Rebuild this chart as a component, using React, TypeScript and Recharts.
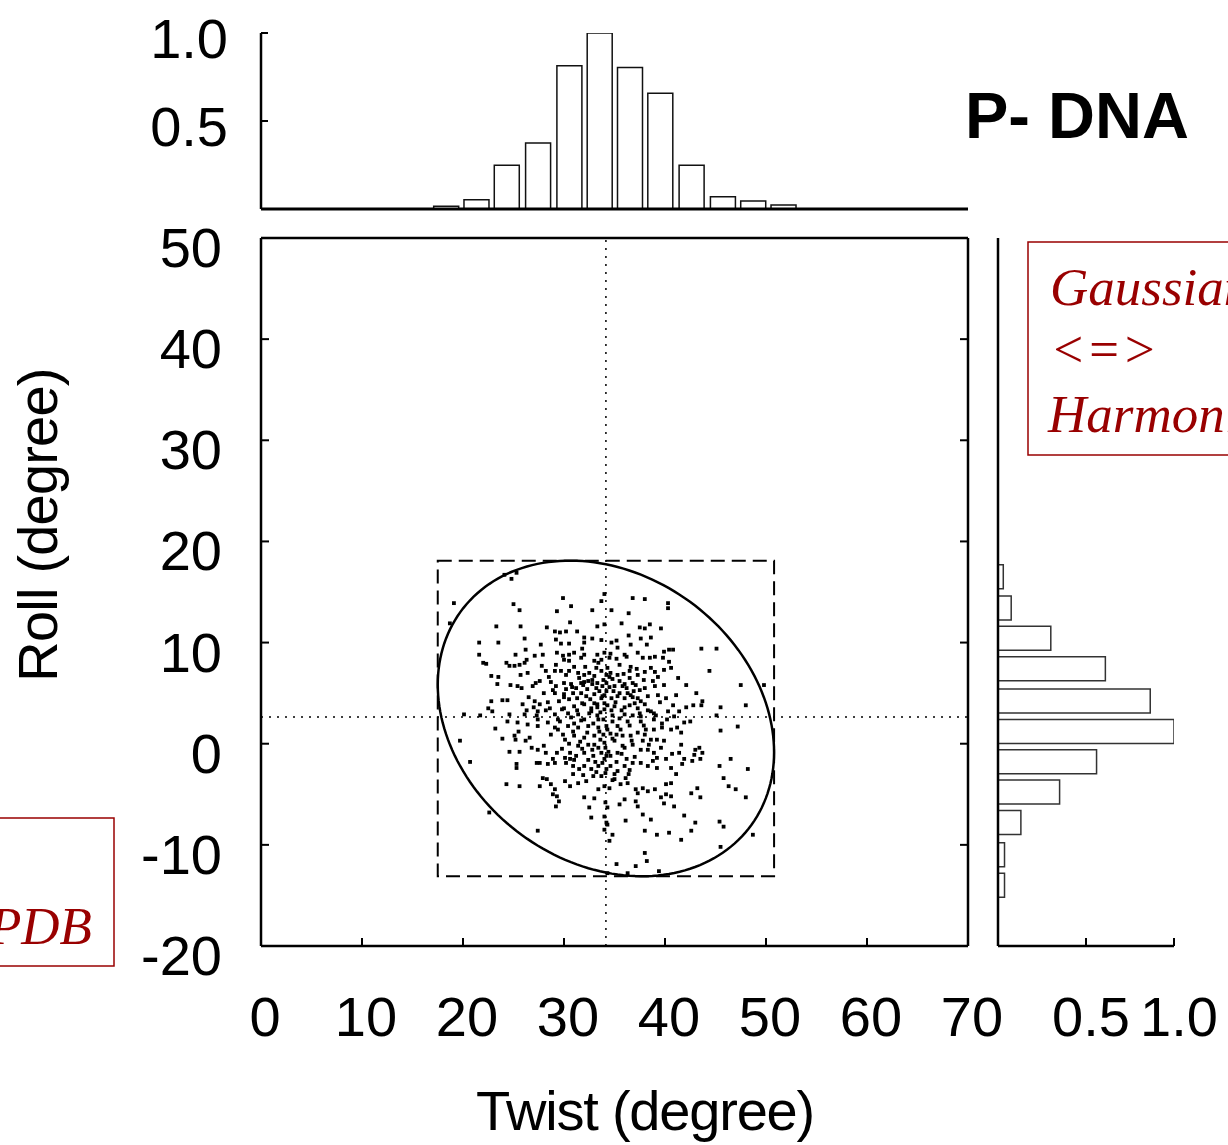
import React from "react"
import {
    ScatterChart,
    Scatter,
    BarChart,
    Bar,
    XAxis,
    YAxis,
    ReferenceLine,
    ReferenceArea,
    Label,
} from "recharts"

if (typeof document !== "undefined") document.body.style.margin = "0"

const SANS = "'Liberation Sans', Arial, Helvetica, sans-serif"
const SERIF = "'Liberation Serif', 'Times New Roman', serif"
const RED = "#990000"

// top panel: twist histogram (bin centre, normalised count)
const twistBins = [18.3, 21.3, 24.3, 27.4, 30.5, 33.5, 36.5, 39.5, 42.6, 45.7, 48.7, 51.7]
const twistFreq = [0.015, 0.053, 0.249, 0.375, 0.814, 1.0, 0.804, 0.657, 0.249, 0.07, 0.045, 0.023]

// right panel: roll histogram
const rollBins = [16.5, 13.4, 10.4, 7.4, 4.2, 1.2, -1.8, -4.8, -7.8, -11.0, -14.0]
const rollFreq = [0.03, 0.075, 0.3, 0.61, 0.865, 1.0, 0.56, 0.35, 0.13, 0.037, 0.037]

const twistTicks = [0, 10, 20, 30, 40, 50, 60, 70]
const rollTicks = [-20, -10, 0, 10, 20, 30, 40, 50]
const histTicks = [0.5, 1.0]

// means (dotted cross) and the dashed box the ellipse sits in
const meanTwist = 34.15
const meanRoll = 2.65
const boxTwist = [17.5, 50.8]
const boxRoll = [-13.1, 18.1]
const ellipseTilt = -0.214 // top tangent offset / half width

// scatter
const dotsUpperLeft: [number, number][] = [
    [24.1, 16.7], [24.8, 16.3], [25.3, 16.9], [19.1, 13.9], [25.0, 13.8], [25.6, 13.2], [29.9, 14.4],
    [30.7, 13.6], [29.3, 13.1], [32.8, 13.2], [33.7, 14.1], [34.0, 14.8], [18.7, 11.9], [23.3, 11.6],
    [25.7, 11.6], [28.3, 11.5], [30.6, 12.0], [29.1, 11.1], [29.6, 11.0], [30.2, 11.1], [31.3, 11.1],
    [33.3, 11.6], [34.0, 11.8], [21.6, 10.0], [23.5, 10.0], [26.1, 10.4], [27.7, 9.8], [29.2, 10.3],
    [29.7, 9.9], [30.5, 9.9], [32.0, 10.5], [32.8, 10.4], [33.7, 10.25], [32.0, 10.0], [21.6, 8.8],
    [25.2, 8.8], [26.2, 9.3], [27.1, 8.7], [27.9, 8.8], [29.3, 9.0], [29.9, 8.7], [30.5, 8.8],
    [31.0, 9.0], [32.0, 8.8], [33.3, 8.8], [34.0, 9.0], [22.0, 8.0], [22.3, 7.9], [24.3, 8.0],
    [24.6, 7.7], [25.1, 7.7], [25.6, 7.8], [26.1, 8.0], [26.3, 8.3], [27.8, 7.7], [30.0, 8.3],
    [30.5, 8.2], [31.7, 8.5], [33.0, 8.2], [33.7, 8.3], [22.8, 6.7], [23.5, 6.6], [25.7, 6.8],
    [26.4, 7.0], [28.2, 7.2], [29.1, 7.2], [29.7, 7.2], [30.5, 7.2], [31.4, 7.0], [32.0, 6.8],
    [32.5, 7.0], [33.0, 6.7], [33.7, 7.2], [34.2, 6.8], [23.4, 5.9], [24.7, 5.8], [25.4, 5.7],
    [25.8, 5.5], [26.9, 5.7], [27.6, 6.2], [28.7, 6.1], [29.2, 5.7], [30.0, 6.0], [30.7, 5.9],
    [31.2, 5.5], [31.7, 6.0], [32.4, 6.2], [32.8, 5.9], [33.3, 6.0], [33.8, 5.7], [22.8, 4.2],
    [23.9, 4.3], [24.4, 4.3], [25.9, 3.9], [27.1, 4.2], [27.6, 3.9], [28.4, 4.1], [29.1, 5.0],
    [30.0, 4.9], [30.9, 5.0], [31.7, 5.0], [32.2, 4.7], [33.0, 4.9], [33.7, 4.5], [34.2, 5.2],
    [22.5, 3.5], [22.9, 3.2], [26.3, 3.3], [27.4, 3.2], [28.2, 3.3], [30.0, 3.5], [31.0, 3.7],
    [32.0, 3.9], [32.7, 3.5], [33.3, 3.9], [34.0, 3.4], [20.1, 2.9], [21.7, 2.8], [24.6, 2.9],
    [26.1, 2.9], [27.3, 2.8], [29.1, 2.9], [31.4, 2.9], [32.5, 3.0], [33.3, 2.8],
    [31.5, 6.5], [32.8, 6.3], [33.5, 5.2], [31.8, 4.0], [33.0, 4.0], [32.3, 5.4], [33.9, 6.3],
    [30.5, 4.4], [29.8, 3.4], [31.3, 3.3], [33.6, 3.1], [32.1, 7.6], [33.2, 7.5], [31.0, 7.6],
    [30.2, 6.8], [28.9, 5.3], [29.5, 4.2], [28.5, 6.6], [27.2, 6.0], [26.5, 4.6], [28.0, 5.0],
    [27.0, 3.6], [34.0, 4.0],
]

const dotsUpperRight: [number, number][] = [
    [36.8, 14.4], [38.0, 14.3], [40.3, 13.9], [40.3, 13.4], [34.7, 13.2], [36.4, 12.9], [35.7, 11.9],
    [37.5, 11.5], [38.0, 11.4], [38.5, 11.8], [39.6, 11.4], [36.4, 10.7], [37.6, 10.4], [38.6, 10.5],
    [38.2, 9.8], [35.2, 10.2], [34.7, 10.0], [35.3, 9.5], [43.6, 9.4], [45.1, 9.4], [44.4, 7.2],
    [47.5, 5.8], [49.8, 5.8], [48.0, 3.8], [45.5, 3.6], [45.1, 2.8], [36.0, 8.8], [36.2, 8.6],
    [35.2, 8.4], [34.5, 8.5], [37.3, 9.0], [37.8, 8.5], [38.5, 8.5], [39.0, 8.6], [39.9, 9.1],
    [40.4, 9.3], [40.8, 9.3], [39.8, 8.5], [40.4, 8.1], [40.6, 7.5], [39.9, 7.3], [41.3, 6.5],
    [42.1, 5.8], [43.1, 5.0], [43.7, 4.2], [43.6, 3.8], [42.8, 3.8], [42.1, 3.6], [34.3, 7.5],
    [35.5, 7.8], [36.6, 7.6], [38.0, 7.1], [38.6, 7.5], [39.0, 7.1], [39.3, 6.6], [37.3, 6.8],
    [36.5, 6.5], [35.3, 6.8], [34.5, 6.6], [34.2, 6.0], [35.0, 5.7], [35.8, 5.7], [36.2, 5.5],
    [37.1, 5.8], [37.5, 5.3], [38.0, 5.5], [39.0, 5.7], [39.9, 5.8], [41.1, 4.8], [34.0, 4.8],
    [34.7, 4.5], [35.5, 5.0], [36.0, 4.5], [36.6, 4.8], [37.3, 4.5], [38.3, 4.7], [39.3, 4.8],
    [40.1, 4.5], [40.8, 3.8], [34.3, 3.8], [35.0, 3.7], [35.7, 3.3], [36.5, 3.8], [37.3, 3.5],
    [38.3, 3.3], [39.1, 2.8], [40.3, 3.2], [40.9, 2.7], [34.8, 2.8], [36.0, 2.9], [36.8, 2.8],
    [37.6, 2.7], [38.6, 3.2], [41.4, 3.2],
    [35.5, 6.2], [36.8, 6.0], [37.9, 6.3], [34.9, 5.2], [36.3, 5.0], [35.1, 4.1], [37.0, 4.0],
    [38.0, 3.9], [39.5, 4.1], [36.5, 7.2], [34.6, 7.0], [38.8, 6.2],
]

const dotsLowerLeft: [number, number][] = [
    [23.2, 1.5], [23.9, 0.5], [25.1, 0.8], [25.5, 1.2], [25.2, 0.4], [26.2, 0.3], [26.6, 0.6],
    [26.8, -0.4], [27.4, -0.6], [28.0, -0.2], [28.2, -0.9], [24.6, -0.8], [25.6, -0.8], [19.7, 0.3],
    [20.7, -1.8], [25.3, -2.0], [25.3, -2.4], [24.3, -4.0], [25.6, -4.2], [27.6, -4.2], [27.9, -3.4],
    [28.3, -3.5], [28.7, -4.0], [29.1, -4.5], [28.9, -5.0], [29.3, -5.2], [29.5, -5.7], [29.2, -6.2],
    [22.6, -6.8], [27.4, -8.6], [27.3, -1.9], [27.6, -1.9], [28.4, -2.0], [28.9, -1.5], [29.1, -1.9],
    [29.3, -0.9], [30.1, -1.4], [30.2, -1.9], [30.6, -1.5], [30.9, -3.0], [30.1, -3.7], [30.6, -4.2],
    [31.4, -3.9], [32.0, -5.3], [32.5, -6.3], [32.7, -7.3], [33.0, -5.4], [34.2, -7.8], [34.0, -8.5],
    [33.4, -4.5], [34.0, -4.2], [32.2, -3.7], [32.9, -3.2], [33.7, -3.2], [31.5, -2.5], [32.0, -2.2],
    [32.7, -2.5], [33.4, -2.2], [34.2, -2.5], [31.2, -1.2], [32.0, -0.9], [32.9, -1.2], [33.7, -0.9],
    [31.4, -0.2], [32.4, -0.1], [33.4, -0.4], [34.0, 0.1], [30.1, 0.4], [31.0, 0.8], [32.0, 0.6],
    [33.0, 0.8], [33.9, 0.9], [29.4, 1.4], [30.4, 1.75], [31.4, 1.6], [32.4, 1.75], [33.4, 1.6],
    [34.2, 1.75], [27.4, 1.75], [28.4, 2.1], [29.4, 2.4], [30.7, 2.6], [32.0, 2.4], [33.4, 2.4],
    [24.4, 2.2], [25.4, 2.1], [26.4, 1.9], [27.4, 2.4],
    [30.5, 0.0], [31.6, 0.2], [32.8, -0.6], [33.5, 1.2], [31.0, 2.0], [29.8, -0.5], [30.9, -2.2],
    [33.1, -1.8], [28.7, 0.9], [29.9, 0.9],
]

const dotsLowerRight: [number, number][] = [
    [45.5, 1.3], [47.2, 1.7], [46.5, -1.5], [48.2, -2.5], [45.4, -2.2], [45.8, -3.4], [46.3, -4.2],
    [47.0, -4.5], [48.0, -5.3], [43.2, -4.4], [42.6, -4.9], [43.5, -5.3], [40.9, -6.2], [41.9, -7.1],
    [43.0, -7.8], [45.4, -7.7], [45.8, -8.2], [48.7, -9.0], [45.5, -10.2], [41.6, -9.5], [42.6, -8.6],
    [40.4, -8.8], [39.2, -9.0], [38.0, -8.6], [38.6, -7.5], [37.8, -7.0], [36.1, -7.6], [34.3, -8.0],
    [34.8, -9.0], [34.5, -9.6], [38.0, -10.8], [38.2, -11.6], [35.2, -11.9], [37.1, -12.1],
    [39.4, -12.6], [36.3, -12.8], [34.3, -12.8], [39.9, -5.9], [39.6, -5.3], [40.1, -5.0],
    [39.0, -4.5], [38.3, -4.7], [37.8, -4.4], [37.3, -4.9], [37.1, -5.7], [37.3, -6.2], [36.0, -5.5],
    [35.5, -6.0], [36.3, -3.9], [35.6, -4.0], [35.0, -3.5], [34.1, -5.8], [34.3, -6.3], [34.0, -7.2],
    [40.1, -4.0], [40.6, -3.9], [41.1, -3.0], [41.7, -2.0], [41.9, -1.5], [42.7, -1.7], [43.5, -1.5],
    [42.9, -1.1], [43.4, -0.4], [41.6, -0.1], [41.4, -0.9], [40.7, -1.0], [40.1, -1.5], [39.2, -1.4],
    [38.8, -1.7], [39.2, -2.4], [40.6, -2.4], [38.3, -2.2], [37.6, -1.9], [36.8, -1.9], [36.0, -2.2],
    [35.3, -2.7], [34.6, -2.2], [34.1, -2.9], [37.6, -0.6], [38.3, -0.6], [38.9, -0.9], [39.6, -0.4],
    [39.9, 0.3], [39.2, 0.4], [38.6, 0.4], [37.8, 0.3], [36.8, -0.1], [36.0, -0.4], [35.3, -0.9],
    [34.6, -1.2], [34.0, -1.5], [34.1, -0.4], [35.0, 0.3], [35.8, 0.8], [36.6, 0.8], [37.3, 1.1],
    [38.1, 1.4], [38.9, 1.4], [39.7, 1.6], [40.6, 1.4], [41.2, 1.6], [41.9, 2.1], [42.5, 2.2],
    [35.3, 1.75], [34.3, 1.4], [34.8, 2.2], [36.3, 2.2], [37.6, 2.2], [38.9, 2.4], [40.2, 2.4],
    [41.6, 1.1], [43.0, -0.6], [43.7, -0.9], [36.1, -3.4], [36.4, -3.0], [37.1, -4.5], [34.5, -4.4],
    [40.6, -5.2],
    [35.2, 0.9], [36.5, 1.8], [35.7, -1.0], [37.0, -1.3], [34.8, 0.5], [36.2, -1.5], [38.0, 0.9],
    [35.0, -3.0],
]

const dotsCore: [number, number][] = [
    [30.8, 5.6], [31.9, 5.8], [32.6, 4.4], [33.2, 5.5], [33.8, 4.7], [34.5, 5.6], [35.3, 4.7],
    [36.0, 5.9], [36.9, 5.2], [37.6, 4.2], [34.7, 3.3], [33.9, 2.4], [32.9, 2.0], [31.7, 2.3],
    [30.4, 3.0], [29.6, 2.2], [30.9, 1.2], [32.3, 1.1], [33.6, 0.4], [34.6, 1.0], [35.6, 1.4],
    [36.7, 0.3], [35.8, -0.2], [34.4, -0.8], [33.0, -0.1], [31.8, -0.5], [30.6, -0.9], [32.4, -1.6],
    [33.8, -1.9], [35.2, -1.8], [36.5, -2.6], [33.2, -2.8], [31.9, -3.1], [34.8, -3.6], [30.0, 4.6],
    [31.3, 4.5], [32.0, 6.1], [34.8, 6.4], [35.9, 6.9], [37.2, 7.4], [33.4, 8.0], [34.6, 8.9],
    [31.8, 9.4], [36.6, 9.8], [38.9, 3.0], [39.7, 2.0], [37.9, 1.8], [38.4, -0.1], [29.1, 1.6],
    [28.6, 3.5], [31.0, -1.6], [34.2, -1.2], [36.0, 3.6], [37.5, 3.0], [32.7, 3.2], [33.3, 3.6],
    [35.5, 2.5], [36.8, 4.6], [30.2, 5.4], [29.2, 7.8],
]

const scatterData = [...dotsUpperLeft, ...dotsUpperRight, ...dotsLowerLeft, ...dotsLowerRight, ...dotsCore]
    .map(([x, y]) => ({ x, y }))
const twistData = twistBins.map((t, i) => ({ t, f: twistFreq[i] }))
const rollData = rollBins.map((r, i) => ({ r, f: rollFreq[i] }))

const txt = { fontFamily: SANS, fontSize: 56, fill: "#000" }

function BottomTick({ x, y, payload }: any) {
    return (
        <g>
            <line x1={x} y1={y} x2={x} y2={y - 8} stroke="#000" strokeWidth={2} />
            <text x={x + 4} y={y + 90} textAnchor="middle" {...txt}>{payload.value}</text>
        </g>
    )
}

function LeftTick({ x, y, payload }: any) {
    return (
        <g>
            <line x1={x} y1={y} x2={x + 8} y2={y} stroke="#000" strokeWidth={2} />
            <text x={x - 39} y={y + 29} textAnchor="end" {...txt}>{payload.value}</text>
        </g>
    )
}

function RightTick({ x, y }: any) {
    return <line x1={x} y1={y} x2={x - 8} y2={y} stroke="#000" strokeWidth={2} />
}

function HistLeftTick({ x, y, payload }: any) {
    return (
        <g>
            <line x1={x} y1={y} x2={x + 7} y2={y} stroke="#000" strokeWidth={2} />
            <text x={x - 33} y={y + 25} textAnchor="end" {...txt}>{payload.value.toFixed(1)}</text>
        </g>
    )
}

function HistBottomTick({ x, y, payload }: any) {
    return (
        <g>
            <line x1={x} y1={y} x2={x} y2={y - 8} stroke="#000" strokeWidth={2} />
            <text x={x + 5} y={y + 90} textAnchor="middle" {...txt}>{payload.value.toFixed(1)}</text>
        </g>
    )
}

// ellipse inscribed in the dashed box, tilted so its top touches left of centre
function EllipseShape({ x, y, width, height }: any) {
    const hx = Math.abs(width) / 2
    const hy = Math.abs(height) / 2
    const cx = x + width / 2
    const cy = y + height / 2
    const k = -ellipseTilt * hy
    const m = Math.sqrt(hy * hy - k * k)
    let d = ""
    for (let i = 0; i <= 180; i++) {
        const a = (i / 180) * Math.PI * 2
        const px = cx + hx * Math.cos(a)
        const py = cy + k * Math.cos(a) + m * Math.sin(a)
        d += (i === 0 ? "M" : "L") + px.toFixed(2) + "," + py.toFixed(2)
    }
    return <path d={d + "Z"} fill="none" stroke="#000" strokeWidth={2.5} />
}

const dotShape = ({ cx, cy }: any) => <rect x={cx - 1.9} y={cy - 1.9} width={3.8} height={3.8} fill="#000" />

const abs = { position: "absolute" as const, left: 0, top: 0 }
const frame = { stroke: "#000", strokeWidth: 2.5 }

export default function App() {
    return (
        <div style={{ position: "relative", width: 1228, height: 1145, overflow: "hidden", background: "#fff" }}>
            <div style={abs}>
                <ScatterChart width={1228} height={1145} margin={{ top: 237, right: 259, bottom: 0, left: 0 }}>
                    <XAxis xAxisId="b" type="number" dataKey="x" domain={[0, 70]} ticks={twistTicks} interval={0}
                        height={199} tickSize={0} tickMargin={0} tickLine={false} axisLine={frame}
                        tick={<BottomTick />} allowDataOverflow>
                        <Label content={() => (
                            <text x={645} y={1130} textAnchor="middle" letterSpacing={-1.2} {...txt}>Twist (degree)</text>
                        )} />
                    </XAxis>
                    <XAxis xAxisId="t" orientation="top" type="number" domain={[0, 70]} height={1}
                        tick={false} tickLine={false} axisLine={frame} allowDataOverflow />
                    <YAxis yAxisId="l" type="number" dataKey="y" domain={[-20, 50]} ticks={rollTicks} interval={0}
                        width={261} tickSize={0} tickMargin={0} tickLine={false} axisLine={frame}
                        tick={<LeftTick />} allowDataOverflow>
                        <Label content={() => (
                            <text transform="translate(57,525) rotate(-90)" textAnchor="middle" letterSpacing={-0.8} {...txt}>Roll (degree)</text>
                        )} />
                    </YAxis>
                    <YAxis yAxisId="r" orientation="right" type="number" domain={[-20, 50]} ticks={rollTicks.slice(1, -1)}
                        interval={0} width={1} tickSize={0} tickMargin={0} tickLine={false} axisLine={frame}
                        tick={<RightTick />} allowDataOverflow />
                    <ReferenceLine xAxisId="b" yAxisId="l" x={meanTwist} stroke="#000" strokeWidth={1.5} strokeDasharray="2 6" />
                    <ReferenceLine xAxisId="b" yAxisId="l" y={meanRoll} stroke="#000" strokeWidth={1.5} strokeDasharray="2 6" />
                    <ReferenceArea xAxisId="b" yAxisId="l" x1={boxTwist[0]} x2={boxTwist[1]} y1={boxRoll[0]} y2={boxRoll[1]}
                        fill="none" stroke="#000" strokeWidth={2} strokeDasharray="14 7" />
                    <ReferenceArea xAxisId="b" yAxisId="l" x1={boxTwist[0]} x2={boxTwist[1]} y1={boxRoll[0]} y2={boxRoll[1]}
                        shape={<EllipseShape />} />
                    <Scatter xAxisId="b" yAxisId="l" data={scatterData} shape={dotShape} isAnimationActive={false} />
                </ScatterChart>
            </div>

            <div style={abs}>
                <BarChart width={1228} height={230} data={twistData} margin={{ top: 33, right: 260, bottom: 20, left: 0 }}>
                    <XAxis type="number" dataKey="t" domain={[0, 70]} height={1} tick={false} tickLine={false}
                        axisLine={{ stroke: "#000", strokeWidth: 3 }} allowDataOverflow />
                    <YAxis type="number" domain={[0, 1]} ticks={histTicks} interval={0} width={261} tickSize={0}
                        tickMargin={0} tickLine={false} axisLine={frame} tick={<HistLeftTick />} allowDataOverflow />
                    <Bar dataKey="f" fill="#fff" stroke="#111" strokeWidth={1.5} barSize={25} isAnimationActive={false} />
                </BarChart>
            </div>

            <div style={abs}>
                <BarChart layout="vertical" width={1228} height={1145} data={rollData}
                    margin={{ top: 238, right: 54, bottom: 0, left: 997 }}>
                    <XAxis type="number" domain={[0, 1]} ticks={histTicks} interval={0} height={199} tickSize={0}
                        tickMargin={0} tickLine={false} axisLine={frame} tick={<HistBottomTick />} allowDataOverflow />
                    <YAxis type="number" dataKey="r" domain={[-20, 50]} reversed width={1} tick={false} tickLine={false}
                        axisLine={frame} allowDataOverflow />
                    <Bar dataKey="f" fill="#fff" stroke="#333" strokeWidth={1.5} barSize={24} isAnimationActive={false} />
                </BarChart>
            </div>

            <svg width={1228} height={1145} style={{ ...abs, pointerEvents: "none" }}>
                <text x={965} y={138} fontFamily={SANS} fontSize={65} fontWeight="bold" fill="#000">P- DNA</text>
                <rect x={1028} y={242} width={260} height={213} fill="none" stroke={RED} strokeWidth={1.5} />
                <g fontFamily={SERIF} fontStyle="italic" fontSize={53} fill={RED}>
                    <text x={1050} y={305}>Gaussian</text>
                    <text x={1050} y={367}>{"<=>"}</text>
                    <text x={1048} y={432}>Harmonic</text>
                </g>
                <rect x={-10} y={818} width={124} height={148} fill="none" stroke={RED} strokeWidth={1.5} />
                <text x={92} y={944} textAnchor="end" fontFamily={SERIF} fontStyle="italic" fontSize={53} fill={RED}>PDB</text>
            </svg>
        </div>
    )
}
